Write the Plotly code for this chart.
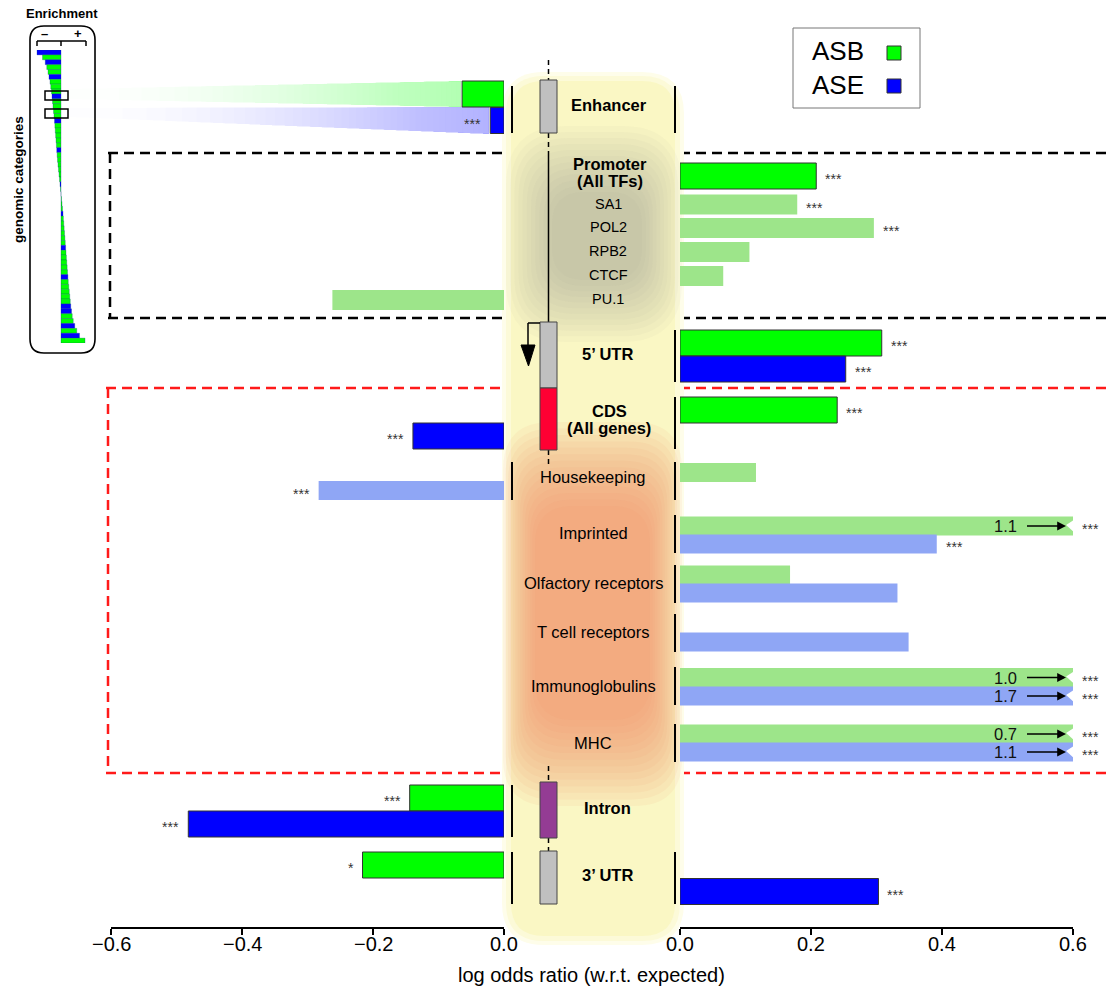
import plotly.graph_objects as go

W, H = 1106, 986
FONT = "Liberation Sans, Arial, sans-serif"

# ---------------- data ----------------
categories = ["Enhancer", "Promoter (All TFs)", "SA1", "POL2", "RPB2", "CTCF", "PU.1",
              "5\u2019 UTR", "CDS (All genes)", "Housekeeping", "Imprinted",
              "Olfactory receptors", "T cell receptors", "Immunoglobulins", "MHC",
              "Intron", "3\u2019 UTR"]
asb_lor = [-0.064, 0.208, 0.179, 0.296, 0.106, 0.066, -0.262, 0.308, 0.240, 0.116,
           1.1, 0.168, None, 1.0, 0.7, -0.144, -0.216]
ase_lor = [-0.021, None, None, None, None, None, None, 0.253, -0.139, -0.283,
           0.392, 0.332, 0.349, 1.7, 1.1, -0.482, 0.303]
asb_sig = ["", "***", "***", "***", "", "", "", "***", "***", "", "***", "", "", "***", "***", "***", "*"]
ase_sig = ["***", "", "", "", "", "", "", "***", "***", "***", "***", "", "", "***", "***", "***", "***"]
is_sub = [False, False, True, True, True, True, True, False, False, True, True, True, True,
          True, True, False, False]
is_bold = [True, True, False, False, False, False, False, True, True, False, False, False,
           False, False, False, True, True]

x_ticks_left = [-0.6, -0.4, -0.2, 0.0]
x_ticks_right = [0.0, 0.2, 0.4, 0.6]
axis_title = "log odds ratio (w.r.t. expected)"

# inset: enrichment of all genomic categories (sorted)
mini_enrichment = [-0.96, -0.74, -0.63, -0.57, -0.52, -0.48, -0.44, -0.41, -0.38, -0.36,
                   -0.34, -0.32, -0.30, -0.28, -0.26, -0.245, -0.23, -0.215, -0.20, -0.185,
                   -0.17, -0.155, -0.14, -0.12, -0.10, -0.08, -0.06, -0.04, -0.02, 0.0,
                   0.02, 0.04, 0.06, 0.08, 0.095, 0.11, 0.125, 0.14, 0.155, 0.17,
                   0.185, 0.20, 0.215, 0.23, 0.245, 0.26, 0.275, 0.29, 0.31, 0.33,
                   0.35, 0.37, 0.39, 0.42, 0.45, 0.49, 0.55, 0.63, 0.74, 0.96]
mini_series = ["ASE", "ASB", "ASE", "ASB", "ASB", "ASE", "ASB", "ASB", "ASB", "ASE",
               "ASB", "ASB", "ASB", "ASB", "ASE", "ASB", "ASB", "ASB", "ASB", "ASB",
               "ASE", "ASB", "ASB", "ASB", "ASB", "ASB", "ASB", "ASE", "ASB", "ASB",
               "ASB", "ASB", "ASB", "ASE", "ASB", "ASB", "ASB", "ASB", "ASB", "ASB",
               "ASE", "ASB", "ASB", "ASB", "ASB", "ASB", "ASE", "ASB", "ASB", "ASB",
               "ASB", "ASB", "ASE", "ASE", "ASB", "ASB", "ASE", "ASB", "ASE", "ASB"]

# ---------------- layout (pixel rows) ----------------
ROW_ASB_Y = [94, 176, 204.5, 228, 252, 276, 300, 343, 410, 472.5, 526, 575, None, 677.5,
             734, 798, 865]
ROW_ASE_Y = [120.5, None, None, None, None, None, None, 369, 436, 490.5, 544, 593, 642, 696,
             752, 824, 891.5]
ROW_H = [26, 26, 20, 20, 20, 20, 20, 26, 26, 19, 19, 19, 19, 19, 19, 26, 26]
LABEL_POS = [(609, 105), (610, 164), (608, 204), (608, 227), (608, 251), (608, 275),
             (608, 299), (607, 354), (609, 411), (593, 477), (593, 533), (593, 583),
             (593, 632), (593, 686), (593, 743), (607, 808), (607, 875)]
LEFT_LINES = [(86, 133), (462, 500), (785, 837), (852, 904)]
RIGHT_LINES = [(86, 133), (330, 382), (397, 449), (462, 500), (515, 553), (565, 603),
               (614, 652), (667, 705), (724, 762), (852, 904)]
AXIS_Y = 928

COL = {("ASB", False): "#00FF00", ("ASE", False): "#0000FF",
       ("ASB", True): "#9DE58A", ("ASE", True): "#8FA6F5"}


def P(x, y):
    return x / W, 1 - y / H


shapes = []
annotations = []


def rect(x0, y0, x1, y1, layer="above", **kw):
    a, b = P(x0, y1)
    c, d = P(x1, y0)
    shapes.append(dict(type="rect", xref="paper", yref="paper", x0=a, y0=b, x1=c, y1=d,
                       layer=layer, **kw))


def line(x0, y0, x1, y1, layer="above", **kw):
    a, b = P(x0, y0)
    c, d = P(x1, y1)
    shapes.append(dict(type="line", xref="paper", yref="paper", x0=a, y0=b, x1=c, y1=d,
                       layer=layer, **kw))


def fmt(x, y):
    a, b = P(x, y)
    return f"{a:.5f},{b:.5f}"


def poly(pts, layer="below", **kw):
    d = "M " + " L ".join(fmt(x, y) for x, y in pts) + " Z"
    shapes.append(dict(type="path", xref="paper", yref="paper", path=d, layer=layer, **kw))


def rrect(x0, y0, x1, y1, r, layer="below", **kw):
    d = (f"M {fmt(x0 + r, y0)} L {fmt(x1 - r, y0)} Q {fmt(x1, y0)} {fmt(x1, y0 + r)} "
         f"L {fmt(x1, y1 - r)} Q {fmt(x1, y1)} {fmt(x1 - r, y1)} L {fmt(x0 + r, y1)} "
         f"Q {fmt(x0, y1)} {fmt(x0, y1 - r)} L {fmt(x0, y0 + r)} Q {fmt(x0, y0)} {fmt(x0 + r, y0)} Z")
    shapes.append(dict(type="path", xref="paper", yref="paper", path=d, layer=layer, **kw))


def text(x, y, s, size=16.5, bold=False, color="black", xanchor="center", **kw):
    a, b = P(x, y)
    annotations.append(dict(x=a, y=b, xref="paper", yref="paper", showarrow=False,
                            xanchor=xanchor, yanchor="middle",
                            text=f"<b>{s}</b>" if bold else s,
                            font=dict(family=FONT, size=size, color=color), **kw))


# ---------------- background decorations ----------------
DASH = "10px,6px"
for yy in (153, 318):
    line(108, yy, 505, yy, layer="below", line=dict(color="black", width=2.5, dash=DASH))
    line(680, yy, 1106, yy, layer="below", line=dict(color="black", width=2.5, dash=DASH))
line(110, 153, 110, 318, layer="below", line=dict(color="black", width=2.5, dash=DASH))
for yy in (388, 773):
    line(106, yy, 505, yy, layer="below", line=dict(color="#FF1A1A", width=2.5, dash=DASH))
    line(680, yy, 1106, yy, layer="below", line=dict(color="#FF1A1A", width=2.5, dash=DASH))
line(108, 388, 108, 773, layer="below", line=dict(color="#FF1A1A", width=2.5, dash=DASH))

# yellow column
rrect(502, 72, 684, 945, 42, fillcolor="#FEFDEA", line=dict(width=0))
rrect(506, 76, 680, 941, 38, fillcolor="#FCFAD8", line=dict(width=0))
rrect(511, 81, 675, 936, 33, fillcolor="#FAF7C4", line=dict(width=0))

# grey glow around promoter
n = 12
for i in range(n):
    t = i / (n - 1)
    rrect(506 + t * 46, 126 + t * 66, 682 - t * 40, 342 - t * 62, 60 - t * 28,
          fillcolor="#8C8C84", opacity=0.045, line=dict(width=0))

# orange glow over gene-category block
n = 14
for i in range(n):
    t = i / (n - 1)
    rrect(503 + t * 32, 422 + t * 84, 682 - t * 32, 806 - t * 86, 48 - t * 10,
          fillcolor="#F2876A", opacity=0.08, line=dict(width=0))

# fading bands linking inset to enhancer bars (stacked translucent slices)
nseg = 44
for (yl0, yl1, xr, yr0, yr1, col) in [(89, 99, 461, 81, 107, "#8EE070"),
                                      (108, 117, 489, 107, 134, "#7C7CF2")]:
    xl = 70
    for i in range(nseg):
        t0 = (i / nseg) ** 0.55
        xa = xl + (xr - xl) * t0
        ta = yl0 + (yr0 - yl0) * t0
        ba = yl1 + (yr1 - yl1) * t0
        poly([(xa, ta), (xr, yr0), (xr, yr1), (xa, ba)], fillcolor=col, opacity=0.016,
             line=dict(width=0))

# ---------------- bars ----------------
traces = []
groups = {}
stars = []
trunc = []
for i, cat in enumerate(categories):
    for series, vals, ys, sigs in (("ASB", asb_lor, ROW_ASB_Y, asb_sig),
                                   ("ASE", ase_lor, ROW_ASE_Y, ase_sig)):
        v = vals[i]
        if v is None:
            continue
        side = "x" if v < 0 else "x2"
        key = (side, series, is_sub[i])
        g = groups.setdefault(key, dict(x=[], y=[], w=[]))
        g["x"].append(v)
        g["y"].append(ys[i])
        g["w"].append(ROW_H[i])
        if sigs[i]:
            stars.append((side, v, ys[i], sigs[i]))
        if v > 0.6:
            trunc.append((v, ys[i], ROW_H[i]))

for (side, series, sub), g in groups.items():
    traces.append(go.Bar(
        x=g["x"], y=g["y"], width=g["w"], orientation="h", xaxis=side, yaxis="y",
        marker=dict(color=COL[(series, sub)],
                    line=dict(color="#333333", width=0 if sub else 1)),
        showlegend=False, hoverinfo="skip"))

# inset bars
traces.append(go.Bar(
    x=mini_enrichment, y=list(range(len(mini_enrichment))), width=1, orientation="h",
    xaxis="x3", yaxis="y2",
    marker=dict(color=["#0000FF" if s == "ASE" else "#00FF00" for s in mini_series],
                line=dict(color="rgba(0,60,120,0.55)", width=0.5)),
    showlegend=False, hoverinfo="skip"))

# significance stars
for side, v, yc, s in stars:
    right = side == "x2"
    annotations.append(dict(x=min(v, 0.6) if right else v, y=yc, xref=side, yref="y",
                            text=s, showarrow=False, xanchor="left" if right else "right",
                            yanchor="middle", xshift=7 if right else -7, yshift=-3,
                            font=dict(family=FONT, size=14, color="#333333")))

# truncated bars: value label, arrow and torn edge
for v, yc, h in trunc:
    annotations.append(dict(x=0.6, y=yc, xref="x2", yref="y", text=f"{v:.1f}",
                            showarrow=True, ax=-68, ay=0, arrowhead=2, arrowsize=1.1,
                            arrowwidth=1.6, arrowcolor="black", standoff=7,
                            startstandoff=9,
                            font=dict(family=FONT, size=16.5, color="#111111")))
    shapes.append(dict(type="path", xref="x2", yref="y", layer="above",
                       path=f"M 0.602,{yc - h / 2 + 3} L 0.5895,{yc - 1} L 0.602,{yc + h / 2 - 3} Z",
                       fillcolor="white", line=dict(width=0)))

# tick labels
for ax_name, vals in (("x", x_ticks_left), ("x2", x_ticks_right)):
    for v in vals:
        annotations.append(dict(x=v, y=1 - 944 / H, xref=ax_name, yref="paper",
                                text=f"{v:.1f}".replace("-", "\u2212"), showarrow=False,
                                xanchor="center", yanchor="middle",
                                font=dict(family=FONT, size=20, color="black")))

# ---------------- side brackets ----------------
for y0, y1 in LEFT_LINES:
    line(512, y0, 512, y1, line=dict(color="black", width=2))
for y0, y1 in RIGHT_LINES:
    line(675, y0, 675, y1, line=dict(color="black", width=2))

# ---------------- gene model ----------------
GX0, GX1, GXC = 540, 557, 548.5
dash_l = dict(color="black", width=1.5, dash="5px,4px")
line(GXC, 60, GXC, 80, line=dash_l)
line(GXC, 133, GXC, 152, line=dash_l)
line(GXC, 152, GXC, 322, line=dict(color="black", width=1.5))
line(GXC, 450, GXC, 466, line=dash_l)
line(GXC, 766, GXC, 782, line=dash_l)
line(GXC, 838, GXC, 851, line=dash_l)
rect(GX0, 80, GX1, 133, fillcolor="#C0C0C0", line=dict(color="#444444", width=1))
rect(GX0, 322, GX1, 388, fillcolor="#C0C0C0", line=dict(color="#444444", width=1))
rect(GX0, 388, GX1, 450, fillcolor="#FF0033", line=dict(color="#444444", width=1))
rect(GX0, 782, GX1, 838, fillcolor="#943C94", line=dict(color="#444444", width=1))
rect(GX0, 851, GX1, 904, fillcolor="#C0C0C0", line=dict(color="#444444", width=1))
# TSS arrow
line(528, 323, GX0, 323, line=dict(color="black", width=1.5))
line(528, 323, 528, 350, line=dict(color="black", width=1.5))
poly([(521, 345), (535, 345), (528.5, 366)], layer="above", fillcolor="black",
     line=dict(color="black", width=1))

# ---------------- category labels ----------------
for i, cat in enumerate(categories):
    x, y = LABEL_POS[i]
    if "(" in cat:
        a, b = cat.split(" (")
        text(x, y, a, size=16.5, bold=True)
        text(x, y + 17, "(" + b, size=16.5, bold=True)
    else:
        size = 14.5 if (is_sub[i] and i <= 6) else 16.5
        text(x, y, cat, size=size, bold=is_bold[i])

# ---------------- legend ----------------
rect(793, 28, 920, 108, fillcolor="white", line=dict(color="#777777", width=1))
text(838, 51, "ASB", size=26)
text(838, 85, "ASE", size=26)
rect(887, 46, 901, 60, fillcolor="#00FF00", line=dict(color="#333333", width=1))
rect(887, 79, 901, 93, fillcolor="#0000FF", line=dict(color="#333333", width=1))

# ---------------- inset frame ----------------
rrect(30, 26, 95, 353, 14, layer="above", fillcolor="rgba(0,0,0,0)",
      line=dict(color="black", width=1.6))
line(37, 41, 86, 41, line=dict(color="black", width=1.5))
for xx in (37, 61, 86):
    line(xx, 41, xx, 46, line=dict(color="black", width=1.5))
text(44, 33, "\u2013", size=13, bold=True)
text(78, 33, "+", size=13, bold=True)
text(62, 13, "Enrichment", size=13, bold=True)
annotations.append(dict(x=18 / W, y=1 - 180 / H, xref="paper", yref="paper", showarrow=False,
                        xanchor="center", yanchor="middle",
                        text="<b>genomic categories</b>", textangle=-90,
                        font=dict(family=FONT, size=13.5, color="black")))
rect(45, 91, 68, 100, fillcolor="rgba(0,0,0,0)", line=dict(color="black", width=1.5))
rect(45, 109, 68, 118, fillcolor="rgba(0,0,0,0)", line=dict(color="black", width=1.5))

# axis title
text(591, 975, axis_title, size=20)

axis_common = dict(anchor="free", position=1 - AXIS_Y / H, showline=True, linecolor="black",
                   linewidth=1.5, ticks="outside", ticklen=6, tickwidth=1.5,
                   tickcolor="black", showticklabels=False, showgrid=False, zeroline=False,
                   fixedrange=True)

fig = go.Figure(traces)
fig.update_layout(
    width=W, height=H, margin=dict(l=0, r=0, t=0, b=0, pad=0, autoexpand=False),
    paper_bgcolor="white", plot_bgcolor="rgba(0,0,0,0)",
    barmode="overlay", showlegend=False,
    xaxis=dict(domain=[111 / W, 504 / W], range=[-0.6, 0], tickvals=x_ticks_left,
               **axis_common),
    xaxis2=dict(domain=[680 / W, 1073 / W], range=[0, 0.6], tickvals=x_ticks_right,
                **axis_common),
    yaxis=dict(domain=[0, 1], range=[H, 0], visible=False, fixedrange=True),
    xaxis3=dict(domain=[36 / W, 86 / W], range=[-1, 1], anchor="y2", visible=False,
                fixedrange=True),
    yaxis2=dict(domain=[1 - 343 / H, 1 - 50 / H], range=[len(mini_enrichment) - 0.5, -0.5],
                anchor="x3", visible=False, fixedrange=True),
    shapes=shapes, annotations=annotations,
)
fig.write_html("out.html", config={"displayModeBar": False},
               post_script="document.body.style.margin='0px';")
